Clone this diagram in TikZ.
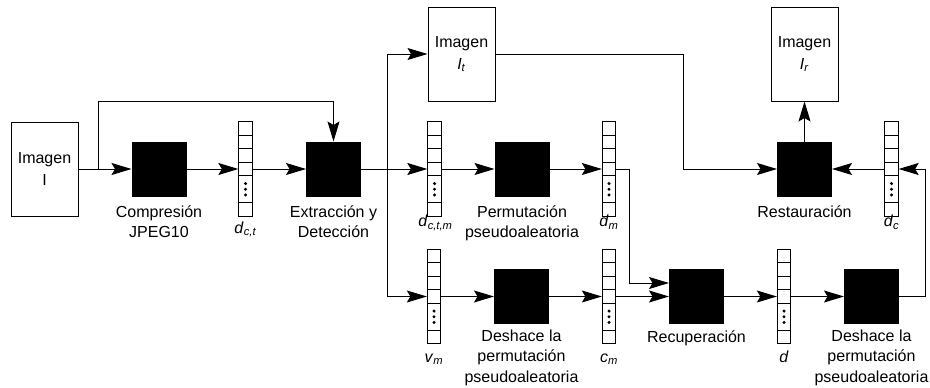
\documentclass[tikz,border=0pt]{standalone}
\usepackage{fontspec}
\setmainfont{Liberation Sans}
\usetikzlibrary{arrows.meta,calc}
\newcommand{\subl}[2]{\textit{#1}\textsubscript{\textit{#2}}}
\newcommand{\ml}[1]{\begin{tabular}[t]{@{}c@{}}#1\end{tabular}}
\begin{document}
\begin{tikzpicture}[x=1pt,y=-1pt, font=\fontsize{16}{20.5}\selectfont, line width=1pt,
 blk/.style={fill=black, draw=black, minimum width=54pt, minimum height=54pt, inner sep=0pt},
 img/.style={draw, minimum width=67pt, minimum height=94pt, inner sep=0pt, align=center, font=\fontsize{16}{22}\selectfont},
 vecbox/.style={draw, fill=white, minimum width=13.5pt, minimum height=94.5pt, inner sep=0pt, line width=.8pt,
   path picture={
     \foreach \k in {13.5,27,40.5,54,81}
       \draw[line width=.8pt] ([yshift=-\k pt]path picture bounding box.north west) -- ([yshift=-\k pt]path picture bounding box.north east);
     \foreach \k in {61.8,67.5,73.2}
       \fill[black] ([yshift=-\k pt]path picture bounding box.north) circle (1.7pt);
   }},
 lab/.style={anchor=base, inner sep=0pt},
 arr/.style={-{Stealth[length=20pt,width=12pt,inset=3.5pt]}}]
\useasboundingbox (0,0) rectangle (930,388);

% top row
\node[img] (imgI) at (44.5,169) {Imagen\\I};
\node[blk] (comp) at (159,169) {};
\node[vecbox] (dct) at (245.5,169) {};
\node[blk] (extr) at (333.5,169) {};
\node[img] (It) at (461.5,54) {Imagen\\\textit{I}\textsubscript{\textit{t}}};
\node[vecbox] (dctm) at (434.5,169) {};
\node[blk] (perm) at (522,169) {};
\node[vecbox] (dm) at (609,169) {};
\node[blk] (rest) at (804.5,169) {};
\node[img] (Ir) at (804.5,54) {Imagen\\\textit{I}\textsubscript{\textit{r}}};
\node[vecbox] (dc) at (891.5,169) {};

% bottom row
\node[vecbox] (vm) at (434,296.5) {};
\node[blk] (desh1) at (521.5,296.5) {};
\node[vecbox] (cm) at (609,296.5) {};
\node[blk] (recup) at (696.5,296.5) {};
\node[vecbox] (d) at (784,296.5) {};
\node[blk] (desh2) at (871.5,296.5) {};

% labels
\node[lab] (lcomp) at (159,217) {\ml{Compresión\\JPEG10}};
\node[lab] (ldct) at (245.5,233) {\subl{d}{c,t}};
\node[lab] (lextr) at (333.5,217) {\ml{Extracción y\\Detección}};
\node[lab] (ldctm) at (435.5,226.5) {\subl{d}{c,t,m}};
\node[lab] (lperm) at (522,217) {\ml{Permutación\\pseudoaleatoria}};
\node[lab] (ldm) at (609,226.5) {\subl{d}{m}};
\node[lab] (lrest) at (804.5,217) {Restauración};
\node[lab] (ldc) at (891.5,226.5) {\subl{d}{c}};
\node[lab] (lvm) at (434,362) {\subl{v}{m}};
\node[lab] (ldesh1) at (521.5,341) {\ml{Deshace la\\permutación\\pseudoaleatoria}};
\node[lab] (lcm) at (609,362) {\subl{c}{m}};
\node[lab] (lrecup) at (696.5,342) {Recuperación};
\node[lab] (ld) at (784,362) {\textit{d}};
\node[lab] (ldesh2) at (871.5,341) {\ml{Deshace la\\permutación\\pseudoaleatoria}};

% turning points
\coordinate (br1) at (98,169);
\coordinate (fbk) at (98,101.5);
\coordinate (br2) at (387,169);
\coordinate (dmturn) at (629,169);
\coordinate (itturn) at (683,54);
\coordinate (rturn) at (925,296.5);

% connectors
\draw[arr] (imgI.east) -- (comp.west);
\draw[arr] (br1) -- (fbk) -| (extr.north);
\draw[arr] (comp.east) -- (dct.west);
\draw[arr] (dct.east) -- (extr.west);
\draw[arr] (extr.east) -- (dctm.west);
\draw[arr] (br2) |- (It.west);
\draw[arr] (br2) |- (vm.west);
\draw[arr] (dctm.east) -- (perm.west);
\draw[arr] (perm.east) -- (dm.west);
\draw[arr] (dm.east) -- (dmturn) |- ([yshift=13.5pt]recup.west);
\draw[arr] (It.east) -- (itturn) |- (rest.west);
\draw[arr] (rest.north) -- (Ir.south);
\draw[arr] (dc.west) -- (rest.east);
\draw[arr] (desh2.east) -- (rturn) |- (dc.east);
\draw[arr] (vm.east) -- (desh1.west);
\draw[arr] (desh1.east) -- (cm.west);
\draw[arr] (cm.east) -- (recup.west);
\draw[arr] (recup.east) -- (d.west);
\draw[arr] (d.east) -- (desh2.west);
\end{tikzpicture}
\end{document}
